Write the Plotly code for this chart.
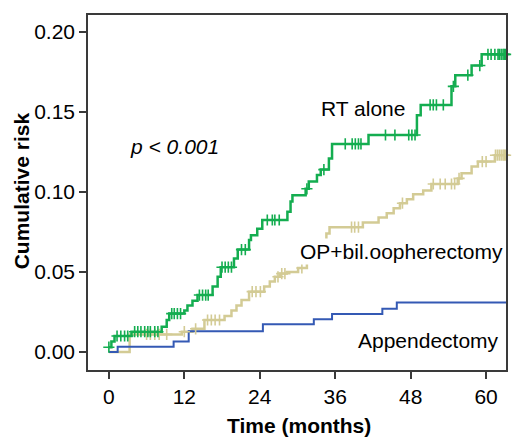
import plotly.graph_objects as go
import bisect

# ---- data (months, cumulative risk) ----
rt_times = [0, 0.4, 0.9, 3.6, 8.4, 9.2, 9.6, 12.0, 12.5, 13.3, 14.1, 16.5, 17.3, 17.8, 19.9, 20.5,
            22.3, 22.6, 23.6, 24.4, 28.4, 28.9, 29.2, 31.3, 31.8, 33.1, 33.7, 35.0, 35.5, 41.3,
            49.0, 49.6, 54.5, 55.1, 57.7, 59.3, 63.2]
rt_risk = [0.003, 0.0065, 0.0100, 0.0127, 0.0158, 0.020, 0.024, 0.026, 0.029, 0.032, 0.0356, 0.041,
           0.047, 0.053, 0.0585, 0.064, 0.070, 0.073, 0.077, 0.0825, 0.0877, 0.094, 0.098, 0.102,
           0.1065, 0.1106, 0.114, 0.121, 0.130, 0.1356, 0.148, 0.1544, 0.166, 0.173, 0.179, 0.186, 0.186]
rt_censor = [0.0, 1.3, 1.9, 2.5, 3.0, 4.1, 4.6, 5.1, 5.7, 6.2, 6.6, 7.3, 7.8, 10.0, 10.4, 10.9, 11.4,
             14.4, 14.9, 15.4, 15.8, 18.0, 18.5, 19.0, 19.5, 21.1, 21.7, 25.2, 26.0, 26.4, 27.1,
             31.5, 34.2, 37.6, 38.7, 39.2, 39.7, 40.1, 44.0, 45.5, 47.7, 48.2, 48.7, 51.1, 51.6,
             52.1, 53.2, 54.8, 57.1, 59.0, 60.3, 60.8, 61.4, 61.9, 62.1, 62.4, 62.7, 62.9, 63.1]

op_times = [0, 3.3, 11.6, 13.3, 15.2, 18.4, 19.5, 20.3, 21.1, 22.3, 24.7, 25.6, 26.4, 27.2, 28.3,
            30.1, 31.5, 32.5, 33.5, 34.6, 35.1, 40.4, 42.9, 44.2, 45.3, 46.3, 47.4, 48.4, 50.0,
            51.3, 55.5, 56.1, 57.7, 58.7, 61.4, 63.2]
op_risk = [0.0, 0.011, 0.0127, 0.0145, 0.020, 0.0225, 0.026, 0.029, 0.0325, 0.0377, 0.041, 0.044,
           0.047, 0.049, 0.050, 0.0525, 0.056, 0.062, 0.068, 0.074, 0.078, 0.081, 0.084, 0.0867,
           0.0898, 0.093, 0.0954, 0.0986, 0.101, 0.105, 0.1085, 0.1117, 0.116, 0.119, 0.123, 0.123]
op_censor = [6.0, 6.6, 7.3, 8.0, 9.2, 12.0, 13.8, 15.7, 16.3, 16.9, 17.6, 22.8, 23.4, 24.1, 26.9,
             27.5, 28.0, 30.7, 38.6, 39.1, 39.7, 46.7, 51.6, 52.7, 53.5, 54.5, 55.0, 55.7, 59.4,
             60.0, 61.5, 61.8, 62.1, 62.4, 62.7, 62.9, 63.1]

app_times = [0, 1.4, 10.3, 12.7, 24.5, 32.6, 35.5, 43.5, 45.8, 63.2]
app_risk = [0.0, 0.0033, 0.0066, 0.013, 0.0173, 0.0205, 0.0237, 0.027, 0.031, 0.031]

x_ticks = [0, 12, 24, 36, 48, 60]
y_ticks = [0.00, 0.05, 0.10, 0.15, 0.20]
y_tick_labels = ["0.00", "0.05", "0.10", "0.15", "0.20"]

GREEN = "#14ad50"
TAN = "#d3cb95"
BLUE = "#3459b4"
FONT = "Liberation Sans, Arial, sans-serif"


def step_at(times, vals, t):
    i = bisect.bisect_right(times, t) - 1
    return vals[max(i, 0)]


fig = go.Figure()

for times, vals, col, w in [(op_times, op_risk, TAN, 2.5), (app_times, app_risk, BLUE, 2),
                            (rt_times, rt_risk, GREEN, 2.5)]:
    fig.add_trace(go.Scatter(x=times, y=vals, mode="lines", line=dict(shape="hv", color=col, width=w),
                             showlegend=False, hoverinfo="skip"))

for times, vals, cens, col in [(op_times, op_risk, op_censor, TAN), (rt_times, rt_risk, rt_censor, GREEN)]:
    fig.add_trace(go.Scatter(x=cens, y=[step_at(times, vals, c) for c in cens], mode="markers",
                             marker=dict(symbol="cross-thin", size=8, line=dict(color=col, width=1.6)),
                             showlegend=False, hoverinfo="skip", cliponaxis=False))

ann_font = dict(family=FONT, size=21, color="black")
fig.add_annotation(x=40.5, y=0.1523, text="RT alone", showarrow=False, font=ann_font)
fig.add_annotation(x=10.45, y=0.1283, text="<i>p < 0.001</i>", showarrow=False, font=ann_font)
fig.add_annotation(x=46.5, y=0.0627, text="OP+bil.oopherectomy", showarrow=False, font=ann_font,
                   bgcolor="white", borderpad=1)
fig.add_annotation(x=50.8, y=0.0069, text="Appendectomy", showarrow=False, font=ann_font,
                   bgcolor="white", borderpad=1)

fig.add_annotation(xref="paper", yref="paper", x=(300 - 88) / 420, y=-(425 - 370) / 355,
                   text="<b>Time (months)</b>", showarrow=False, font=ann_font, yanchor="middle")
fig.add_annotation(xref="paper", yref="paper", x=-(88 - 21) / 420, y=(370 - 191) / 355,
                   text="<b>Cumulative risk</b>", showarrow=False, font=ann_font, textangle=-90,
                   xanchor="center", yanchor="middle")

axis_common = dict(showline=True, mirror=True, linecolor="#3a3a3a", linewidth=1.5, ticks="outside",
                   ticklen=7, tickwidth=1.5, tickcolor="#3a3a3a", showgrid=False, zeroline=False,
                   tickfont=dict(family=FONT, size=21, color="black"))

fig.update_xaxes(range=[-3.32, 63.17], tickvals=x_ticks, **axis_common)
fig.update_yaxes(range=[-0.01125, 0.2106], tickvals=y_ticks, ticktext=y_tick_labels, **axis_common)

fig.update_layout(width=512, height=439, margin=dict(l=88, r=4, t=15, b=69),
                  plot_bgcolor="white", paper_bgcolor="white")

fig.write_html("out.html", config={"displayModeBar": False},
               post_script="document.body.style.margin='0';document.body.style.overflow='hidden';")
